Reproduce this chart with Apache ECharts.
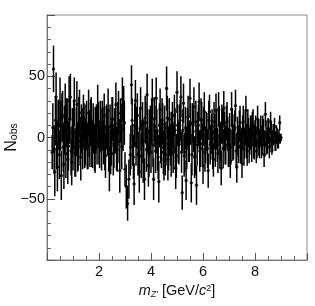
<!DOCTYPE html>
<html><head><meta charset="utf-8">
<style>html,body{margin:0;padding:0;background:#fff}#c{width:315px;height:306px}</style>
<script src="https://cdn.jsdelivr.net/npm/echarts@6/dist/echarts.min.js"></script>
</head><body><div id="c"></div>
<script>
const masses = [
0.20,0.25,0.30,0.35,0.40,0.45,0.50,0.55,0.60,0.65,0.70,0.75,0.80,0.85,0.90,0.95,1.00,1.05,1.10,1.15,
1.20,1.25,1.30,1.35,1.40,1.45,1.50,1.55,1.60,1.65,1.70,1.75,1.80,1.85,1.90,1.95,2.00,2.05,2.10,2.15,
2.20,2.25,2.30,2.35,2.40,2.45,2.50,2.55,2.60,2.65,2.70,2.75,2.80,2.85,2.90,2.95,3.00,3.05,3.10,3.15,
3.20,3.25,3.30,3.35,3.40,3.45,3.50,3.55,3.60,3.65,3.70,3.75,3.80,3.85,3.90,3.95,4.00,4.05,4.10,4.15,
4.20,4.25,4.30,4.35,4.40,4.45,4.50,4.55,4.60,4.65,4.70,4.75,4.80,4.85,4.90,4.95,5.00,5.05,5.10,5.15,
5.20,5.25,5.30,5.35,5.40,5.45,5.50,5.55,5.60,5.65,5.70,5.75,5.80,5.85,5.90,5.95,6.00,6.05,6.10,6.15,
6.20,6.25,6.30,6.35,6.40,6.45,6.50,6.55,6.60,6.65,6.70,6.75,6.80,6.85,6.90,6.95,7.00,7.05,7.10,7.15,
7.20,7.25,7.30,7.35,7.40,7.45,7.50,7.55,7.60,7.65,7.70,7.75,7.80,7.85,7.90,7.95,8.00,8.05,8.10,8.15,
8.20,8.25,8.30,8.35,8.40,8.45,8.50,8.55,8.60,8.65,8.70,8.75,8.80,8.85,8.90,8.95,9.00];
const nObs = [
-12,56,-28,33,-24,10,29,-31,18,-22,24,12,-18,30,33,-20,-8,30,-13,27,
-8,20,-16,5,16,-6,8,-7,20,-5,14,-6,6,-10,9,25,-4,12,-9,7,
18,-15,9,22,-26,-12,15,-13,6,27,-10,20,-27,10,31,24,-26,-40,-54,-34,
-14,43,-6,-38,30,8,-14,-28,24,-3,-20,-34,12,35,-23,6,-12,31,-34,9,
32,-10,-36,23,-8,11,-18,-14,40,-18,15,-6,4,-12,18,-25,37,-4,10,33,
-45,28,-12,-35,8,-4,32,-37,12,25,-15,-39,6,29,-9,14,-23,21,-6,5,
-27,21,-4,9,-18,5,22,-6,23,-11,-25,9,24,-8,12,3,-10,-19,23,-5,
6,26,-24,-3,9,-8,-21,13,-5,22,-11,4,-3,7,10,-6,3,-11,15,-5,
5,-7,8,-14,19,-5,7,-8,13,-6,3,9,-4,2,-3,12,0];
const nErr = [
14,19,20,20,20,20,20,20,20,20,20,20,20,20,19,19,19,19,19,19,
19,19,19,19,19,19,19,19,19,19,19,19,19,19,18,18,18,18,18,18,
18,18,18,18,18,18,18,18,18,18,18,18,18,18,18,18,14,18,14,16,
17,16,17,17,17,17,17,17,17,17,17,17,17,17,17,17,17,17,17,17,
17,17,17,17,17,17,17,17,18,17,17,17,17,17,17,17,17,17,17,17,
14,16,16,16,16,16,16,16,16,16,16,16,15,16,15,15,15,16,15,15,
14,14,14,14,14,14,14,14,14,14,14,14,14,14,14,14,14,14,14,14,
13,13,13,13,13,13,12,13,12,12,12,12,11,11,11,11,11,10,11,10,
10,10,10,10,10,9,9,9,8,8,8,7,7,6,6,6,3];
const coreMasses = [
0.225,0.275,0.325,0.375,0.425,0.475,0.525,0.575,0.625,0.675,0.725,0.775,0.825,0.875,0.925,0.975,
1.025,1.075,1.125,1.175,1.225,1.275,1.325,1.375,1.425,1.475,1.525,1.575,1.625,1.675,1.725,1.775,1.825,1.875,1.925,1.975,
2.025,2.075,2.125,2.175,2.225,2.275,2.325,2.375,2.425,2.475,2.525,2.575,2.625,2.675,2.725,2.775,2.825,2.875,2.925,2.975,
3.225,3.275,3.325,3.375,3.425,3.475,3.525,3.575,3.625,3.675,3.725,3.775,3.825,3.875,3.925,3.975,
4.025,4.075,4.125,4.175,4.225,4.275,4.325,4.375,4.425,4.475,4.525,4.575,4.625,4.675,4.725,4.775,4.825,4.875,4.925,4.975,
5.025,5.075,5.125,5.175,5.225,5.275,5.325,5.375,5.425,5.475,5.525,5.575,5.625,5.675,5.725,5.775,5.825,5.875,5.925,5.975,
6.025,6.075,6.125,6.175,6.225,6.275,6.325,6.375,6.425,6.475,6.525,6.575,6.625,6.675,6.725,6.775,6.825,6.875,6.925,6.975,
7.025,7.075,7.125,7.175,7.225,7.275,7.325,7.375,7.425,7.475,7.525,7.575,7.625,7.675,7.725,7.775,7.825,7.875,7.925,7.975,
8.025,8.075,8.125,8.175,8.225,8.275,8.325,8.375,8.425,8.475,8.525,8.575,8.625,8.675,8.725,8.775,8.825,8.875,8.925,8.975];
const coreObs = [
8,-10,14,-6,11,-14,9,16,-8,6,-13,12,-7,15,-11,4,
10,-12,5,-8,13,-3,7,-6,9,-4,11,-7,3,12,-5,9,-8,6,-3,10,
-7,6,12,-4,-9,8,3,-10,9,-5,15,-7,5,-9,11,-3,14,-8,7,12,
-8,14,-16,10,-5,18,-13,7,-15,11,-3,16,-10,5,-14,8,
13,-6,15,-11,5,-16,10,-3,14,-12,8,-5,16,-9,3,-14,11,-8,6,-15,
10,-5,14,-12,6,-15,8,-9,17,-3,11,-14,5,-16,13,-6,10,-11,15,-5,
9,-12,5,-9,14,-6,3,-10,13,-8,6,-13,10,-3,11,-9,5,-6,13,-8,
6,-8,10,-4,8,-11,3,-7,12,-6,4,-9,7,-3,9,-7,4,-6,9,-4,
5,-4,3,-5,6,-2,4,-5,3,-3,5,-2,4,-3,2,-3,3,-2,1,-1];
const coreErr = [
20,20,20,20,20,20,20,20,20,20,20,20,20,20,20,20,
20,20,20,20,20,20,20,20,19,19,19,19,19,19,19,19,19,19,19,19,
18,18,18,18,18,18,18,18,18,18,18,18,18,18,18,18,18,18,18,18,
18,18,18,18,18,18,18,18,18,18,18,18,18,18,18,18,
18,18,18,18,18,18,18,18,18,18,18,18,18,18,18,18,18,18,18,18,
17,17,17,17,17,17,17,17,17,17,17,17,17,17,17,17,17,17,17,17,
16,16,16,16,16,16,16,16,16,16,16,16,16,16,16,16,16,16,16,16,
14,14,14,14,14,14,14,14,14,14,14,14,14,14,14,14,14,14,14,14,
13,13,12,12,12,12,11,11,11,10,10,10,9,9,8,8,7,7,6,4];
const xTickStep = 2, yTickStep = 50;

const chart = echarts.init(document.getElementById('c'), null, {renderer:'canvas'});
const font = 'Liberation Sans';
const bars = masses.map((m,i)=>[m, nObs[i]-nErr[i], nObs[i]+nErr[i]]);
const coreBars = coreMasses.map((m,i)=>[m, coreObs[i]-coreErr[i], coreObs[i]+coreErr[i]]);
const points = masses.map((m,i)=>[m, nObs[i]]);
const corePoints = coreMasses.map((m,i)=>[m, coreObs[i]]);
const renderBar = (p,api)=>{
  const a=api.coord([api.value(0),api.value(1)]), b=api.coord([api.value(0),api.value(2)]);
  return {type:'line',shape:{x1:a[0],y1:a[1],x2:b[0],y2:b[1]},style:{stroke:'#000',lineWidth:1.5}};
};
const axisCommon = {
  axisLine:{show:true,onZero:false,lineStyle:{color:'#777',width:1}},
  axisTick:{show:true,inside:true,lineStyle:{color:'#555',width:1}},
  minorTick:{show:true,lineStyle:{color:'#666',width:1}},
  splitLine:{show:false}
};
chart.setOption({
  animation:false,
  backgroundColor:'#fff',
  grid:{left:47,right:8,top:15,bottom:46,outerBoundsMode:'none',show:true,borderColor:'#888',borderWidth:1,backgroundColor:'transparent'},
  xAxis:{type:'value',min:0,max:10,interval:xTickStep,...axisCommon,
    axisTick:{...axisCommon.axisTick,length:7},
    minorTick:{...axisCommon.minorTick,splitNumber:4,length:4},
    axisLabel:{fontFamily:font,fontSize:14.5,color:'#111',margin:4,showMinLabel:false,showMaxLabel:false},
    nameLocation:'middle',nameGap:21,
    name:"{i|m}{s|Z'}{t| [GeV/}{i|c}{u|2}{t|]}",
    nameTextStyle:{fontFamily:font,rich:{
      i:{fontFamily:font,fontStyle:'italic',fontSize:14.5,color:'#111'},
      t:{fontFamily:font,fontSize:14.5,color:'#111'},
      s:{fontFamily:font,fontStyle:'italic',fontSize:9,color:'#111',padding:[6,0,0,0]},
      u:{fontFamily:font,fontSize:9,color:'#111',padding:[0,0,6,0]}
    }}
  },
  yAxis:{type:'value',min:-100,max:100,interval:yTickStep,...axisCommon,
    axisTick:{...axisCommon.axisTick,length:8},
    minorTick:{...axisCommon.minorTick,splitNumber:5,length:4},
    axisLabel:{fontFamily:font,fontSize:14.5,color:'#111',margin:2,showMinLabel:false,showMaxLabel:false,
      formatter:v=>String(v).replace('-','\u2212')},
    nameLocation:'middle',nameGap:27,nameRotate:90,nameMoveOverlap:false,
    name:"{t|N}{s|obs}",
    nameTextStyle:{fontFamily:font,rich:{
      t:{fontFamily:font,fontSize:16,color:'#111'},
      s:{fontFamily:font,fontSize:10.5,color:'#111',padding:[6,0,0,0]}
    }}
  },
  series:[
    {type:'custom',coordinateSystem:'cartesian2d',clip:true,data:bars,encode:{x:0,y:[1,2]},renderItem:renderBar},
    {type:'custom',coordinateSystem:'cartesian2d',clip:true,data:coreBars,encode:{x:0,y:[1,2]},renderItem:renderBar},
    {type:'scatter',data:points,symbol:'circle',symbolSize:3.4,itemStyle:{color:'#000'},z:3},
    {type:'scatter',data:corePoints,symbol:'circle',symbolSize:3.4,itemStyle:{color:'#000'},z:3}
  ]
});
</script></body></html>
